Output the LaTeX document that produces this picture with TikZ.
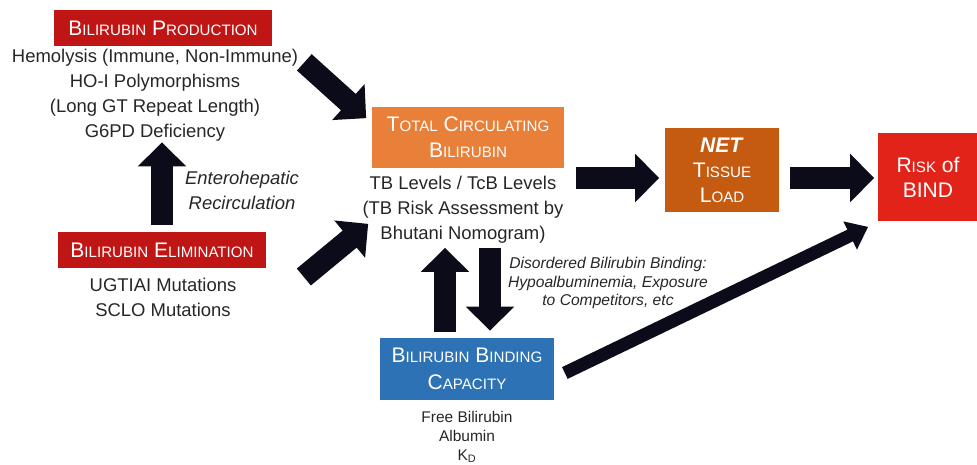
\documentclass[tikz,border=0pt]{standalone}
\usepackage{fontspec}
\setmainfont{Liberation Sans}
\usepackage{xcolor}
\usetikzlibrary{arrows.meta, calc}

\definecolor{prodred}{HTML}{C01515}
\definecolor{tcborange}{HTML}{E8803A}
\definecolor{netorange}{HTML}{C55A11}
\definecolor{riskred}{HTML}{E2231A}
\definecolor{bindblue}{HTML}{2E72B6}
\definecolor{arrowc}{HTML}{0B0B1A}

% fake small caps: big initial, smaller capitals after it
\newcommand{\scword}[2]{#1{\fontsize{8.6}{10}\selectfont #2}}

\tikzset{
  box/.style={rectangle, fill=#1, text=white, align=center, inner sep=0pt,
    font=\fontsize{12}{15}\selectfont},
  txt/.style={align=center, text=black!85, inner sep=0pt,
    font=\fontsize{10.5}{14.2}\selectfont},
  smalltxt/.style={align=center, text=black!85, inner sep=0pt,
    font=\fontsize{8.8}{10.8}\selectfont},
  bigarrow/.style={line width=0.44cm, draw=arrowc,
    -{Triangle[width=0.94cm, length=0.48cm]}},
  thinarrow/.style={line width=0.26cm, draw=arrowc,
    -{Triangle[width=0.6cm, length=0.4cm]}}
}

\begin{document}
\begin{tikzpicture}[x=0.02cm, y=-0.02cm]
  \useasboundingbox (0,0) rectangle (977,464);

  % boxes
  \node[box=prodred, minimum width=4.36cm, minimum height=0.72cm] (prod) at (163,28)
    {\scword{B}{ILIRUBIN} \scword{P}{RODUCTION}};
  \node[box=tcborange, minimum width=3.86cm, minimum height=1.22cm] (tcb) at (468,137)
    {\scword{T}{OTAL} \scword{C}{IRCULATING}\\\scword{B}{ILIRUBIN}};
  \node[box=netorange, minimum width=2.3cm, minimum height=1.68cm,
    font=\fontsize{12}{14.2}\selectfont] (net) at (722,170)
    {\textbf{\textit{NET}}\\\scword{T}{ISSUE}\\\scword{L}{OAD}};
  \node[box=riskred, minimum width=2.02cm, minimum height=1.78cm,
    font=\fontsize{12}{14.2}\selectfont] (risk) at (928,177)
    {\scword{R}{ISK} of\\BIND};
  \node[box=prodred, minimum width=4.18cm, minimum height=0.72cm] (elim) at (162,250)
    {\scword{B}{ILIRUBIN} \scword{E}{LIMINATION}};
  \node[box=bindblue, minimum width=3.5cm, minimum height=1.24cm] (bind) at (467,369)
    {\scword{B}{ILIRUBIN} \scword{B}{INDING}\\\scword{C}{APACITY}};

  % texts under the boxes
  \node[txt] (prodtxt) at (155,95) {Hemolysis (Immune, Non-Immune)\\HO-I Polymorphisms\\
    (Long GT Repeat Length)\\G6PD Deficiency};
  \node[txt] (tcbtxt) at (463,210) {TB Levels / TcB Levels\\(TB Risk Assessment by\\
    Bhutani Nomogram)};
  \node[txt] (elimtxt) at (163,297) {UGTIAI Mutations\\SCLO Mutations};
  \node[smalltxt] (bindtxt) at (467,437) {Free Bilirubin\\Albumin\\K\textsubscript{D}};

  % arrow labels
  \node[txt, font=\fontsize{10.5}{14.2}\selectfont\itshape] (recirc) at (242,190)
    {Enterohepatic\\Recirculation};
  \node[txt, font=\fontsize{8.9}{10.6}\selectfont\itshape] (disord) at (608,283)
    {Disordered Bilirubin Binding:\\Hypoalbuminemia, Exposure\\to Competitors, etc};

  % arrows
  \draw[bigarrow] ([shift={(32,16)}]prod.south east) -- ([shift={(-5,12)}]tcb.north west);
  \draw[bigarrow] ([shift={(0,-7)}]elim.north) -- ([shift={(-1,96)}]prod.south);
  \draw[bigarrow] ([shift={(37,27)}]elim.east) -- ([shift={(-3,56)}]tcb.south west);
  \draw[bigarrow] ([shift={(11,41)}]tcb.east) -- ([shift={(-5,8)}]net.west);
  \draw[bigarrow] ([shift={(10,8)}]net.east) -- ([shift={(-3,1)}]risk.west);
  \draw[bigarrow] ([shift={(-22,-6)}]bind.north) -- ([shift={(-23,80)}]tcb.south);
  \draw[bigarrow] ([shift={(22,80)}]tcb.south) -- ([shift={(23,-7)}]bind.north);
  \draw[thinarrow] ([shift={(10,4)}]bind.east) -- ([shift={(-9,5)}]risk.south west);
\end{tikzpicture}
\end{document}
